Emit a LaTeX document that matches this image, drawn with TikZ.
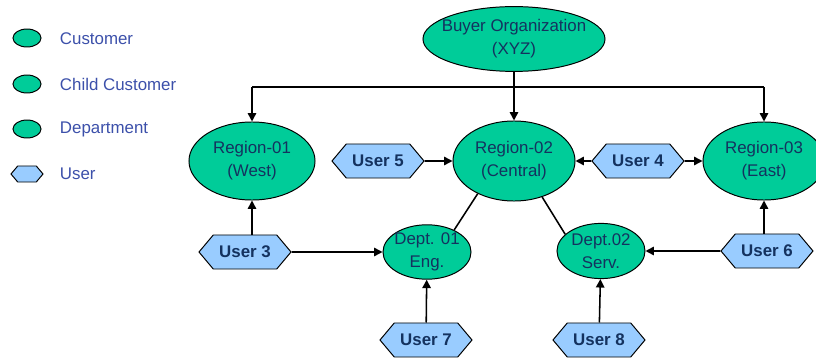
\documentclass[tikz,border=0pt]{standalone}
\usepackage{fontspec}
\setmainfont{Liberation Sans}
\usetikzlibrary{shapes.geometric,shapes.symbols,arrows.meta}
\definecolor{orgGreen}{RGB}{0,204,153}
\definecolor{userBlue}{RGB}{153,204,255}
\definecolor{labelNavy}{RGB}{20,50,95}
\definecolor{legendBlue}{RGB}{60,80,170}

\begin{document}
\begin{tikzpicture}[x=0.025cm, y=-0.025cm,
    font=\fontsize{12}{16.5}\selectfont,
    org/.style={ellipse, draw, line width=0.7pt, fill=orgGreen, text=labelNavy, align=center, inner sep=0pt},
    user/.style={signal, signal to=west and east, signal pointer angle=100, draw, line width=0.7pt, fill=userBlue, text=labelNavy, font=\fontsize{12}{16.5}\selectfont\bfseries, minimum width=2.3cm, minimum height=0.85cm, inner sep=0pt},
    legtext/.style={anchor=west, text=legendBlue},
    arr/.style={-{Triangle[length=6pt,width=6pt]}, line width=1.1pt},
    link/.style={line width=1.1pt}]
    \useasboundingbox (0,0) rectangle (816,360);

    % legend
    \node[org, minimum width=0.7cm, minimum height=0.45cm] (legCust) at (27,38) {};
    \node[legtext] (legCustText) at (55,39) {Customer};
    \node[org, minimum width=0.7cm, minimum height=0.45cm] (legChild) at (27,84) {};
    \node[legtext] (legChildText) at (55,84) {Child Customer};
    \node[org, minimum width=0.7cm, minimum height=0.45cm] (legDept) at (27,129) {};
    \node[legtext] (legDeptText) at (55,129) {Department};
    \node[user, minimum width=0.8cm, minimum height=0.4cm] (legUser) at (27,174) {};
    \node[legtext] (legUserText) at (55,174) {User};

    % organisation
    \node[org, minimum width=4.55cm, minimum height=1.62cm, inner xsep=-0.3cm] (buyer) at (514,39) {Buyer Organization\\(XYZ)};
    \node[org, minimum width=3.15cm, minimum height=1.95cm] (r1) at (252,161) {Region-01\\(West)};
    \node[org, minimum width=3.05cm, minimum height=2cm] (r2) at (514,161) {Region-02\\(Central)};
    \node[org, minimum width=3.05cm, minimum height=1.95cm] (r3) at (764,161) {Region-03\\(East)};
    \node[org, minimum width=2.2cm, minimum height=1.35cm, inner xsep=-3pt] (d1) at (427,252) {Dept. 01\\Eng.};
    \node[org, minimum width=2.2cm, minimum height=1.38cm, inner xsep=-3pt] (d2) at (601,251) {Dept.02\\Serv.};

    % users
    \node[user] (u5) at (378,161) {User 5};
    \node[user] (u4) at (638,161) {User 4};
    \node[user] (u3) at (245,252) {User 3};
    \node[user] (u6) at (767,251) {User 6};
    \node[user] (u7) at (426,340) {User 7};
    \node[user] (u8) at (599,340) {User 8};

    % connectors
    \coordinate (barL) at (252,87);
    \coordinate (barR) at (764,87);
    \draw[link] (barL) -- (barR);
    \draw[arr] (buyer) -- (r2);
    \draw[arr] (barL) -- (r1);
    \draw[arr] (barR) -- (r3);
    \draw[arr] (u5) -- (r2);
    \draw[arr] (u4) -- (r2);
    \draw[arr] (u4) -- (r3);
    \draw[arr] (u3.north -| r1) -- (r1);
    \draw[arr] (u3) -- (d1);
    \draw[arr] (u6.north -| r3) -- (r3);
    \draw[arr] (u6) -- (d2);
    \draw[arr] (u7) -- (d1);
    \draw[arr] (u8) -- (d2);
    \draw[link] (r2.222) -- (d1.39);
    \draw[link] (r2.308) -- (d2.155);
\end{tikzpicture}
\end{document}
